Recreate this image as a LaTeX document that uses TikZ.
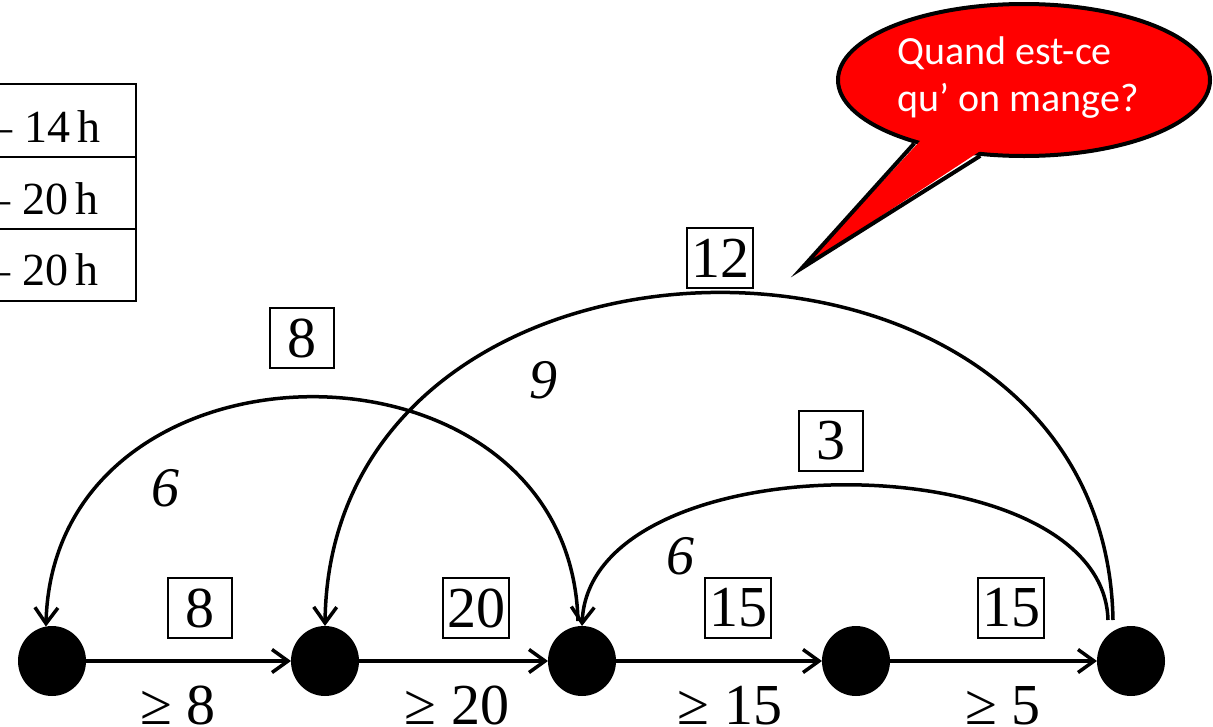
\documentclass[tikz,border=0pt]{standalone}
\usepackage{fontspec}
\setmainfont{Liberation Serif}
\newfontfamily\bubblefont{Carlito}
\usetikzlibrary{arrows.meta,shapes.geometric,calc}
\begin{document}
\begin{tikzpicture}[x=1pt,y=-1pt,
  vertex/.style={ellipse, fill=black, minimum width=68pt, minimum height=70pt, inner sep=0pt, outer sep=0pt},
  boxlabel/.style={draw, line width=1.5pt, minimum width=64pt, minimum height=60pt, inner sep=4pt, font=\fontsize{58}{60}\selectfont},
  wlabel/.style={font=\fontsize{56}{60}\selectfont\itshape, inner sep=0pt},
  cons/.style={font=\fontsize{58}{60}\selectfont, inner sep=0pt, anchor=base},
  tabtext/.style={font=\fontsize{46}{50}\selectfont, inner sep=0pt, anchor=base east},
  tip/.style={-{Straight Barb[length=16pt,width=23pt,line width=3.5pt]}},
  edge/.style={line width=3.5pt, tip},
  arcedge/.style={line width=3.5pt, tip},
  tabline/.style={line width=2pt}
]
\useasboundingbox (0,0) rectangle (1213,726);

% table (cut at left edge)
\draw[tabline] (-5,84) -- (136,84) -- (136,301) -- (-5,301);
\draw[tabline] (-5,157) -- (136,157);
\draw[tabline] (-5,229) -- (136,229);
\node[tabtext] (t1) at (101,142) {– 14\,h};
\node[tabtext] (t2) at (99,214) {– 20\,h};
\node[tabtext] (t3) at (99,285) {– 20\,h};

% vertices
\node[vertex] (n1) at (52,661) {};
\node[vertex] (n2) at (325,661) {};
\node[vertex] (n3) at (582,661) {};
\node[vertex] (n4) at (856,661) {};
\node[vertex] (n5) at (1131,661) {};

% start points of the curves above vertices 3 and 5
\coordinate (s3) at ($(n3.center)+(-4,-40)$);
\coordinate (s5b) at ($(n5.center)+(-18,-41)$);
\coordinate (s5c) at ($(n5.center)+(-23,-41)$);

% straight edges
\draw[edge] (n1) -- (n2);
\draw[edge] (n2) -- (n3);
\draw[edge] (n3) -- (n4);
\draw[edge] (n4) -- (n5);

% curved edges
\draw[arcedge] (s3) .. controls +(-8,-300) and +(8,-304) .. (n1.100);
\draw[arcedge] (s5b) .. controls +(-8,-440) and +(5,-440) .. (n2.north);
\draw[arcedge] (s5c) .. controls +(-5,-180) and +(8,-187) .. (n3.north);

% boxed labels
\node[boxlabel] (b1) at (200,608) {8};
\node[boxlabel] (b2) at (476,608) {20};
\node[boxlabel] (b3) at (738,608) {15};
\node[boxlabel] (b4) at (1011,608) {15};
\node[boxlabel] (b5) at (302,338) {8};
\node[boxlabel] (b6) at (720,258) {12};
\node[boxlabel] (b7) at (831,441) {3};

% italic weights
\node[wlabel] (w1) at (165,488) {6};
\node[wlabel] (w2) at (543,380) {9};
\node[wlabel] (w3) at (680,556) {6};

% constraints below
\node[cons] (c1) at (178,724) {≥ 8};
\node[cons] (c2) at (457,724) {≥ 20};
\node[cons] (c3) at (730,724) {≥ 15};
\node[cons] (c4) at (1003,724) {≥ 5};

% speech bubble
\node[ellipse, fill=red, draw=black, line width=4pt, minimum width=372pt, minimum height=152pt, inner sep=0pt] (bubble) at (1024,80) {};
\coordinate (tip) at (802,268);
\fill[red] ($(bubble.210)!9pt!(bubble.center)$) -- (tip) -- ($(bubble.240)!9pt!(bubble.center)$) -- cycle;
\draw[line width=4pt, line join=miter] (bubble.210) -- (tip) -- (bubble.240);
\node[text=white, align=left, inner sep=0pt, font=\bubblefont\fontsize{40}{47}\selectfont] (bubbletext) at (1018,78) {Quand est-ce\\qu’ on mange?};
\end{tikzpicture}
\end{document}
